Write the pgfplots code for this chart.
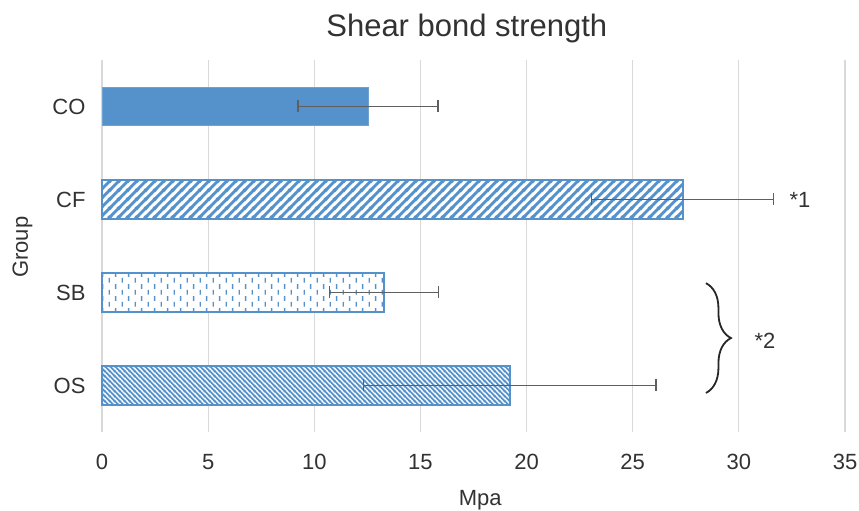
\documentclass[border=0pt]{standalone}
\usepackage{fontspec}
\setmainfont{Liberation Sans}
\usepackage{pgfplots}
\pgfplotsset{compat=1.18}
\usetikzlibrary{patterns,decorations.pathreplacing}
\definecolor{barblue}{RGB}{85,145,202}
\definecolor{gridgray}{RGB}{217,217,217}
\definecolor{errgray}{RGB}{95,95,95}
\definecolor{txt}{RGB}{50,50,50}
% wide "/" stripes
\pgfdeclarepatternformonly{widene}{\pgfqpoint{0pt}{0pt}}{\pgfqpoint{9.2pt}{9.2pt}}{\pgfqpoint{9.2pt}{9.2pt}}{%
  \pgfsetlinewidth{3.1pt}%
  \pgfpathmoveto{\pgfqpoint{-1pt}{-1pt}}\pgfpathlineto{\pgfqpoint{10.2pt}{10.2pt}}%
  \pgfpathmoveto{\pgfqpoint{-1pt}{8.2pt}}\pgfpathlineto{\pgfqpoint{1pt}{10.2pt}}%
  \pgfpathmoveto{\pgfqpoint{8.2pt}{-1pt}}\pgfpathlineto{\pgfqpoint{10.2pt}{1pt}}%
  \pgfusepath{stroke}}
% dense "\" stripes
\pgfdeclarepatternformonly{densenw}{\pgfqpoint{0pt}{0pt}}{\pgfqpoint{4.8pt}{4.8pt}}{\pgfqpoint{4.8pt}{4.8pt}}{%
  \pgfsetlinewidth{1.7pt}%
  \pgfpathmoveto{\pgfqpoint{-1pt}{5.8pt}}\pgfpathlineto{\pgfqpoint{5.8pt}{-1pt}}%
  \pgfpathmoveto{\pgfqpoint{-1pt}{1pt}}\pgfpathlineto{\pgfqpoint{1pt}{-1pt}}%
  \pgfpathmoveto{\pgfqpoint{3.8pt}{5.8pt}}\pgfpathlineto{\pgfqpoint{5.8pt}{3.8pt}}%
  \pgfusepath{stroke}}
% dashed vertical
\pgfdeclarepatternformonly{dashvert}{\pgfqpoint{0pt}{0pt}}{\pgfqpoint{13.4pt}{12pt}}{\pgfqpoint{13.4pt}{12pt}}{%
  \pgfsetlinewidth{1.4pt}%
  \pgfpathmoveto{\pgfqpoint{3.35pt}{0.5pt}}\pgfpathlineto{\pgfqpoint{3.35pt}{5.5pt}}%
  \pgfpathmoveto{\pgfqpoint{10.05pt}{6.5pt}}\pgfpathlineto{\pgfqpoint{10.05pt}{11.5pt}}%
  \pgfusepath{stroke}}
\begin{document}
\begin{tikzpicture}[x=1pt,y=1pt]
\useasboundingbox (0,0) rectangle (859,511);
\begin{axis}[
  at={(102pt,79pt)}, anchor=south west,
  scale only axis, width=743pt, height=372pt,
  xmin=0, xmax=35, ymin=-0.5, ymax=3.5,
  xtick={0,5,...,35}, ytick={0,1,2,3}, yticklabels={OS,SB,CF,CO},
  xmajorgrids, grid style={gridgray, line width=1.2pt},
  axis line style={draw=none}, major tick length=0pt,
  tick label style={font=\fontsize{22}{26}\selectfont, text=txt},
  xticklabel style={yshift=-19pt},
  yticklabel style={xshift=-13pt},
  /pgf/number format/assume math mode=true,
  clip=false,
  error bars/error bar style={errgray, line width=1.2pt},
  error bars/error mark=|,
  error bars/error mark options={errgray, line width=1.2pt, mark size=6pt},
]
% CO
\addplot[xbar, bar width=0.41, bar shift=0pt, fill=barblue, draw=barblue!85!white, line width=0.8pt,
  error bars/.cd, x dir=both, x explicit]
  coordinates {(12.53,3) +- (3.3,0)};
% CF
\addplot[xbar, bar width=0.41, bar shift=0pt, fill=white, draw=barblue, line width=2pt,
  postaction={pattern=widene, pattern color=barblue},
  error bars/.cd, x dir=both, x explicit]
  coordinates {(27.35,2) +- (4.3,0)};
% SB
\addplot[xbar, bar width=0.41, bar shift=0pt, fill=white, draw=barblue, line width=2pt,
  postaction={pattern=dashvert, pattern color=barblue},
  error bars/.cd, x dir=both, x explicit]
  coordinates {(13.27,1) +- (2.57,0)};
% OS
\addplot[xbar, bar width=0.41, bar shift=0pt, fill=white, draw=barblue, line width=2pt,
  postaction={pattern=densenw, pattern color=barblue},
  error bars/.cd, x dir=both, x explicit]
  coordinates {(19.2,0) +- (6.9,0)};

\node[font=\fontsize{22}{26}\selectfont, text=txt] at (axis cs:32.88,2) {*1};
\node[font=\fontsize{22}{26}\selectfont, text=txt] at (axis cs:31.23,0.48) {*2};
\draw[decorate, decoration={brace, amplitude=25pt}, line width=1.8pt, black!85]
  (axis cs:28.45,1.10) -- (axis cs:28.45,-0.08);

\node[font=\fontsize{31}{36}\selectfont, text=txt, anchor=base] at ([yshift=23pt]axis description cs:0.491,1) {Shear bond strength};
\node[font=\fontsize{22}{26}\selectfont, text=txt, anchor=base] at ([yshift=-73pt]axis description cs:0.509,0) {Mpa};
\node[font=\fontsize{22}{26}\selectfont, text=txt, anchor=base, rotate=90] at ([xshift=-74pt]axis description cs:0,0.497) {Group};
\end{axis}
\end{tikzpicture}
\end{document}
